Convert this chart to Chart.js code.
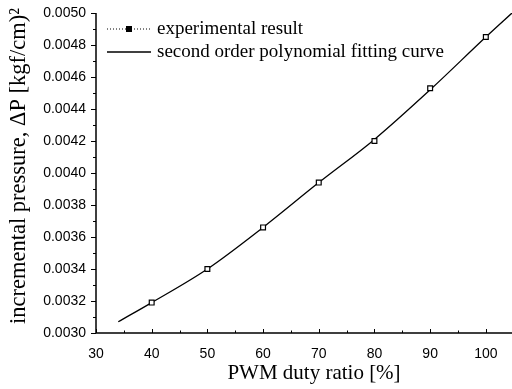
<!DOCTYPE html>
<html>
<head>
<meta charset="utf-8">
<script src="https://cdn.jsdelivr.net/npm/chart.js@4/dist/chart.umd.min.js"></script>
<style>
html,body{margin:0;padding:0;background:#fff;}
#wrap{position:relative;width:512px;height:389px;}
</style>
</head>
<body>
<div id="wrap"><canvas id="c"></canvas></div>
<script>
// ---- data ----
const dutyRatio = [40, 50, 60, 70, 80, 90, 100];
const measuredPressure = [0.00319, 0.00340, 0.00366, 0.00394, 0.00420, 0.00453, 0.00485];
const fitDuty = [34, 40, 50, 60, 70, 80, 90, 100, 104.7];
const fitPressure = [0.00307, 0.00319, 0.00340, 0.00366, 0.00394, 0.00421, 0.00452, 0.00485, 0.00500];
const xTickValues = [30, 40, 50, 60, 70, 80, 90, 100];
const xMinorValues = [35, 45, 55, 65, 75, 85, 95];
const yTickValues = [0.0030, 0.0032, 0.0034, 0.0036, 0.0038, 0.0040, 0.0042, 0.0044, 0.0046, 0.0048, 0.0050];
const yMinorValues = [0.0031, 0.0033, 0.0035, 0.0037, 0.0039, 0.0041, 0.0043, 0.0045, 0.0047, 0.0049];
const legendLabels = ['experimental result', 'second order polynomial fitting curve'];
const xTitle = 'PWM duty ratio [%]';
const yTitle = 'incremental pressure, \u0394P [kgf/cm)\u00B2';

const SERIF = '"Liberation Serif", "Times New Roman", serif';
const SANS = '"Liberation Sans", Arial, sans-serif';

function zeroPad(s) { s.paddingTop = 0; s.paddingBottom = 0; s.paddingLeft = 0; s.paddingRight = 0; }

const axesPlugin = {
  id: 'axesPlugin',
  afterDatasetsDraw(chart) {
    const ctx = chart.ctx, a = chart.chartArea;
    const xs = chart.scales.x, ys = chart.scales.y;
    ctx.save();
    ctx.strokeStyle = '#000';
    ctx.lineWidth = 1.5;
    ctx.beginPath();
    ctx.moveTo(a.left, a.top);
    ctx.lineTo(a.left, a.bottom);
    ctx.lineTo(a.right, a.bottom);
    ctx.stroke();
    ctx.lineWidth = 1;
    ctx.beginPath();
    yTickValues.forEach(v => { const y = Math.round(ys.getPixelForValue(v)) + 0.5; ctx.moveTo(a.left - 5, y); ctx.lineTo(a.left, y); });
    yMinorValues.forEach(v => { const y = Math.round(ys.getPixelForValue(v)) + 0.5; ctx.moveTo(a.left - 3, y); ctx.lineTo(a.left, y); });
    xTickValues.forEach(v => { const x = Math.round(xs.getPixelForValue(v)) + 0.5; ctx.moveTo(x, a.bottom); ctx.lineTo(x, a.bottom - 4); });
    xMinorValues.forEach(v => { const x = Math.round(xs.getPixelForValue(v)) + 0.5; ctx.moveTo(x, a.bottom); ctx.lineTo(x, a.bottom - 2.5); });
    ctx.stroke();

    // legend
    const lx0 = a.left + 11, lx1 = a.left + 55, tx = a.left + 61;
    const r1 = a.top + 16, r2 = a.top + 39;
    ctx.lineWidth = 1;
    ctx.setLineDash([1, 2]);
    ctx.beginPath(); ctx.moveTo(lx0, r1); ctx.lineTo(lx1, r1); ctx.stroke();
    ctx.setLineDash([]);
    ctx.fillStyle = '#000';
    ctx.fillRect((lx0 + lx1) / 2 - 3, r1 - 3, 6, 6);
    ctx.lineWidth = 1.3;
    ctx.beginPath(); ctx.moveTo(lx0, r2); ctx.lineTo(lx1, r2); ctx.stroke();
    ctx.font = '19px ' + SERIF;
    ctx.textBaseline = 'middle';
    ctx.textAlign = 'left';
    ctx.fillText(legendLabels[0], tx, r1);
    ctx.fillText(legendLabels[1], tx, r2);

    // axis titles
    ctx.textAlign = 'center';
    ctx.font = '21px ' + SERIF;
    ctx.fillText(xTitle, 314, 373);
    ctx.save();
    ctx.translate(19, 166);
    ctx.rotate(-Math.PI / 2);
    ctx.font = '22.5px ' + SERIF;
    ctx.fillText(yTitle, 0, 0);
    ctx.restore();
    ctx.restore();
  }
};

new Chart(document.getElementById('c'), {
  type: 'scatter',
  data: {
    datasets: [
      {
        label: legendLabels[1],
        data: fitDuty.map((x, i) => ({ x: x, y: fitPressure[i] })),
        showLine: true,
        borderColor: '#000',
        borderWidth: 1.3,
        pointRadius: 0,
        cubicInterpolationMode: 'monotone',
        order: 2
      },
      {
        label: legendLabels[0],
        data: dutyRatio.map((x, i) => ({ x: x, y: measuredPressure[i] })),
        showLine: false,
        pointStyle: 'rect',
        pointRadius: 3.4,
        pointBorderWidth: 1.2,
        pointBorderColor: '#000',
        pointBackgroundColor: '#fff',
        order: 1
      }
    ]
  },
  options: {
    responsive: true,
    maintainAspectRatio: false,
    animation: false,
    layout: { autoPadding: false, padding: { top: 13, right: 0, bottom: 0, left: 0 } },
    plugins: { legend: { display: false }, tooltip: { enabled: false } },
    scales: {
      x: {
        type: 'linear',
        min: 30, max: 104.7,
        afterBuildTicks: s => { s.ticks = xTickValues.map(v => ({ value: v })); },
        afterFit: s => { s.height = 56; zeroPad(s); },
        border: { display: false },
        grid: { display: false, drawTicks: false },
        ticks: { color: '#000', font: { family: SANS, size: 14 }, padding: 13, maxRotation: 0, callback: v => String(v) },
        title: { display: false }
      },
      y: {
        type: 'linear',
        min: 0.0030, max: 0.0050,
        afterBuildTicks: s => { s.ticks = yTickValues.map(v => ({ value: v })); },
        afterFit: s => { s.width = 96; zeroPad(s); },
        border: { display: false },
        grid: { display: false, drawTicks: false },
        ticks: { color: '#000', font: { family: SANS, size: 14 }, padding: 10, callback: v => Number(v).toFixed(4) },
        title: { display: false }
      }
    }
  },
  plugins: [axesPlugin]
});
</script>
</body>
</html>
